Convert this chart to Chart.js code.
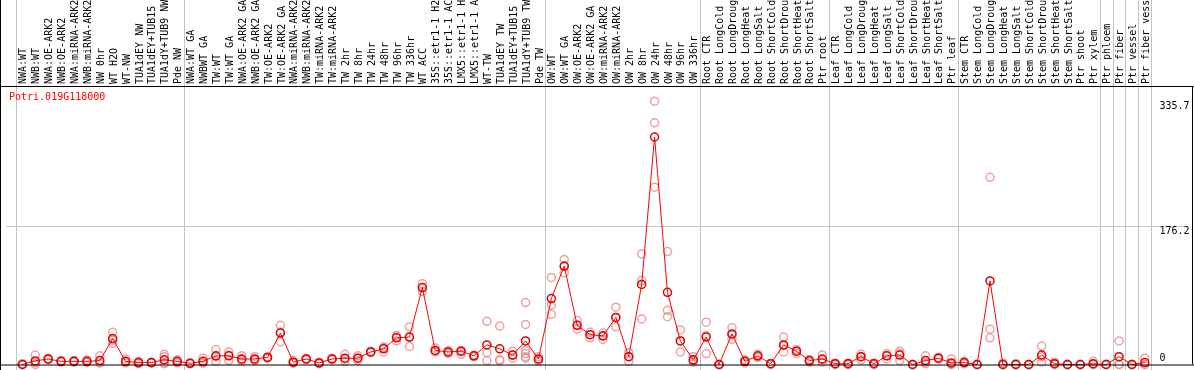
<!DOCTYPE html>
<html>
<head>
<meta charset="utf-8">
<script src="https://cdn.jsdelivr.net/npm/chart.js@4.4.1/dist/chart.umd.min.js"></script>
<style>
  html, body { margin: 0; padding: 0; background: #fff; }
  #wrap { width: 1194px; height: 370px; }
</style>
</head>
<body>
<div id="wrap"><canvas id="exprChart" width="1194" height="370"></canvas></div>
<script>
// ========= Data =========
const geneName = "Potri.019G118000";

const samples = [
    "NWA:WT", "NWB:WT", "NWA:OE-ARK2", "NWB:OE-ARK2", "NWA:miRNA-ARK2", "NWB:miRNA-ARK2",
    "NW 0hr", "WT H2O", "WT-NW", "TUA1dEY NW", "TUA1dEY+TUB15", "TUA1dY+TUB9 NW", "Pde NW",
    "NWA:WT GA", "NWBWT GA", "TW:WT", "TW:WT GA", "NWA:OE-ARK2 GA", "NWB:OE-ARK2 GA",
    "TW:OE-ARK2", "TW:OE-ARK2 GA", "NWA:miRNA-ARK2", "NWB:miRNA-ARK2", "TW:miRNA-ARK2",
    "TW:miRNA-ARK2", "TW 2hr", "TW 8hr", "TW 24hr", "TW 48hr", "TW 96hr", "TW 336hr",
    "WT ACC", "35S::etr1-1 H2", "35S::etr1-1 AC", "LMX5::etr1-1 H", "LMX5::etr1-1 A",
    "WT-TW", "TUA1dEY TW", "TUA1dEY+TUB15", "TUA1dY+TUB9 TW", "Pde TW",
    "OW:WT", "OW:WT GA", "OW:OE-ARK2", "OW:OE-ARK2 GA", "OW:miRNA-ARK2", "OW:miRNA-ARK2",
    "OW 2hr", "OW 8hr", "OW 24hr", "OW 48hr", "OW 96hr", "OW 336hr",
    "Root CTR", "Root LongCold", "Root LongDroug", "Root LongHeat", "Root LongSalt",
    "Root ShortCold", "Root ShortDrou", "Root ShortHeat", "Root ShortSalt", "Ptr root",
    "Leaf CTR", "Leaf LongCold", "Leaf LongDroug", "Leaf LongHeat", "Leaf LongSalt",
    "Leaf ShortCold", "Leaf ShortDrou", "Leaf ShortHeat", "Leaf ShortSalt", "Ptr leaf",
    "Stem CTR", "Stem LongCold", "Stem LongDroug", "Stem LongHeat", "Stem LongSalt",
    "Stem ShortCold", "Stem ShortDrou", "Stem ShortHeat", "Stem ShortSalt", "Ptr shoot",
    "Ptr xylem", "Ptr phloem", "Ptr fiber", "Ptr vessel", "Ptr fiber vess"
];

// mean expression per sample
const means = [
    0, 4.6, 7, 4, 4, 4, 5, 33, 4, 2.5, 2.5, 6, 4,
    1.5, 4, 11, 11, 7, 7, 9, 40, 3, 7, 2, 7, 8, 8, 16, 20, 34, 35,
    98, 18, 16, 17, 11, 25, 20, 12, 30, 7,
    84, 125.5, 50, 38, 36.5, 60, 10, 102, 290, 92, 30, 6,
    35, 0, 39, 4, 11, 1, 25, 17, 5, 7,
    1, 1, 10, 1, 11, 12, 0, 5, 8, 2,
    2.5, 0, 106.5, 0, 0, 0, 12, 1, 0, 0, 1,
    0, 10, 0, 2.5
];

// individual replicates per sample
const replicates = [
    [0, 1, 0], [12, 2, 0], [8, 6, 7], [5, 3, 4], [5, 3, 4], [6, 3, 3],
    [11, 2, 2], [41, 31, 27], [7, 3, 2], [4, 2, 1], [3, 2, 2], [13, 10, 2, 1], [6, 3, 2],
    [2, 1, 1], [8, 2, 2], [19, 10, 4], [16, 12, 5], [11, 6, 4], [10, 6, 5],
    [10, 9, 8], [50, 41, 29], [5, 2, 2], [8, 7, 6], [3, 2, 1],
    [8, 7, 6], [13, 7, 4], [11, 8, 5], [17, 16, 15], [22, 16, 22], [37, 35, 30], [48, 35, 23],
    [103, 98, 93], [21, 17, 16], [18, 16, 14], [18, 16, 13], [12, 11, 10],
    [55, 15, 5], [49, 6, 5], [17, 12, 8], [79, 51, 18, 14, 10, 8], [10, 6, 4],
    [111, 76, 64], [134, 125, 117], [56, 50, 45], [41, 38, 34], [40, 36, 32], [73, 60, 48],
    [15, 10, 4], [141, 107, 58], [335.7, 308, 226], [144, 69, 61], [44, 30, 16], [10, 5, 3],
    [54, 37, 14], [0, 0, 0], [47, 38, 32], [6, 4, 2], [13, 10, 9],
    [1, 1, 0], [35, 24, 16], [19, 17, 14], [6, 5, 3], [12, 6, 3],
    [2, 1, 0], [2, 1, 0], [13, 10, 6], [2, 1, 0], [14, 11, 7],
    [17, 14, 5], [0, 0, 0], [11, 3, 1], [9, 8, 7], [7, 1, 0],
    [4, 2, 1], [0, 0, 0], [238.6, 45, 34], [2, 0, 0], [1, 0, 0],
    [0, 0, 0], [23.5, 10, 3], [3, 1, 0], [0, 0, 0], [0, 0, 0],
    [4, 0, 0], [0, 0, 0], [30, 0, 0], [0, 0, 0], [8, 0, 0]
];

// group separators sit between these sample indices
const groupBreaks = [-0.5, 12.5, 40.5, 52.5, 62.5, 72.5, 83.5, 84.5, 85.5, 86.5, 87.5];

const yTickValues = [0, 176.2, 335.7];
const yGridValues = [176.2];

// ========= Helper =========
const MONO = '10px "DejaVu Sans Mono", monospace';

const decorPlugin = {
    id: "decor",
    beforeDatasetsDraw(chart) {
        const { ctx, scales } = chart;
        ctx.save();
        ctx.strokeStyle = "#c4c4c4";
        ctx.lineWidth = 1;
        groupBreaks.forEach((b) => {
            const px = Math.round(scales.x.getPixelForValue(b)) + 0.5;
            ctx.beginPath();
            ctx.moveTo(px, 0);
            ctx.lineTo(px, chart.height);
            ctx.stroke();
        });
        ctx.restore();
    },
    afterDraw(chart) {
        const { ctx, scales, chartArea } = chart;
        ctx.save();
        ctx.font = MONO;

        // sample names, rotated, above the plot
        ctx.fillStyle = "#000";
        ctx.textAlign = "left";
        ctx.textBaseline = "middle";
        samples.forEach((name, i) => {
            const px = scales.x.getPixelForValue(i);
            ctx.save();
            ctx.translate(px + 1.5, chartArea.top - 2);
            ctx.rotate(-Math.PI / 2);
            ctx.fillText(name, 0, 0);
            ctx.restore();
        });

        // frame
        ctx.strokeStyle = "#000";
        ctx.lineWidth = 1;
        ctx.beginPath();
        ctx.moveTo(0, chartArea.top + 0.5);
        ctx.lineTo(chart.width, chartArea.top + 0.5);
        ctx.moveTo(0, chartArea.bottom + 0.5);
        ctx.lineTo(chart.width, chartArea.bottom + 0.5);
        ctx.moveTo(0.5, 0);
        ctx.lineTo(0.5, chart.height);
        ctx.moveTo(chart.width - 1.5, chartArea.top);
        ctx.lineTo(chart.width - 1.5, chartArea.bottom);
        ctx.stroke();

        // y values on the right
        yTickValues.forEach((v) => {
            const py = scales.y.getPixelForValue(v);
            ctx.fillText(String(v), chartArea.right - 29, v === 0 ? py - 6 : py + 5);
        });

        // gene name
        ctx.fillStyle = "#ff0000";
        ctx.fillText(geneName, 9, chartArea.top + 11);
        ctx.restore();
    },
};

// ========= Expression profile =========
const exprCtx = document.getElementById("exprChart");
new Chart(exprCtx, {
    data: {
        datasets: [
            {
                type: "line",
                label: "mean",
                data: means.map((v, i) => ({ x: i, y: v })),
                borderColor: "#ff0000",
                borderWidth: 1,
                tension: 0,
                pointRadius: 4,
                pointBorderWidth: 1.5,
                pointBorderColor: "#e00000",
                pointBackgroundColor: "rgba(0,0,0,0)",
                clip: false,
            },
            {
                type: "scatter",
                label: "replicates",
                data: replicates.flatMap((reps, i) => reps.map((v) => ({ x: i, y: v }))),
                pointRadius: 4,
                pointBorderWidth: 1.5,
                pointBorderColor: "rgba(232, 140, 140, 0.8)",
                pointBackgroundColor: "rgba(0,0,0,0)",
                clip: false,
            },
        ],
    },
    options: {
        responsive: false,
        animation: false,
        events: [],
        devicePixelRatio: 1,
        layout: { padding: { left: 1, right: 1, top: 86, bottom: 2 } },
        plugins: {
            legend: { display: false },
            tooltip: { enabled: false },
        },
        scales: {
            x: {
                type: "linear",
                display: false,
                min: -17 / 13,
                max: 1175 / 13,
            },
            y: {
                type: "linear",
                min: 0,
                max: 355,
                border: { display: false },
                ticks: { display: false },
                afterBuildTicks: (axis) => {
                    axis.ticks = yGridValues.map((v) => ({ value: v }));
                },
                grid: { color: "#c4c4c4", drawTicks: false },
            },
        },
    },
    plugins: [decorPlugin],
});
</script>
</body>
</html>
